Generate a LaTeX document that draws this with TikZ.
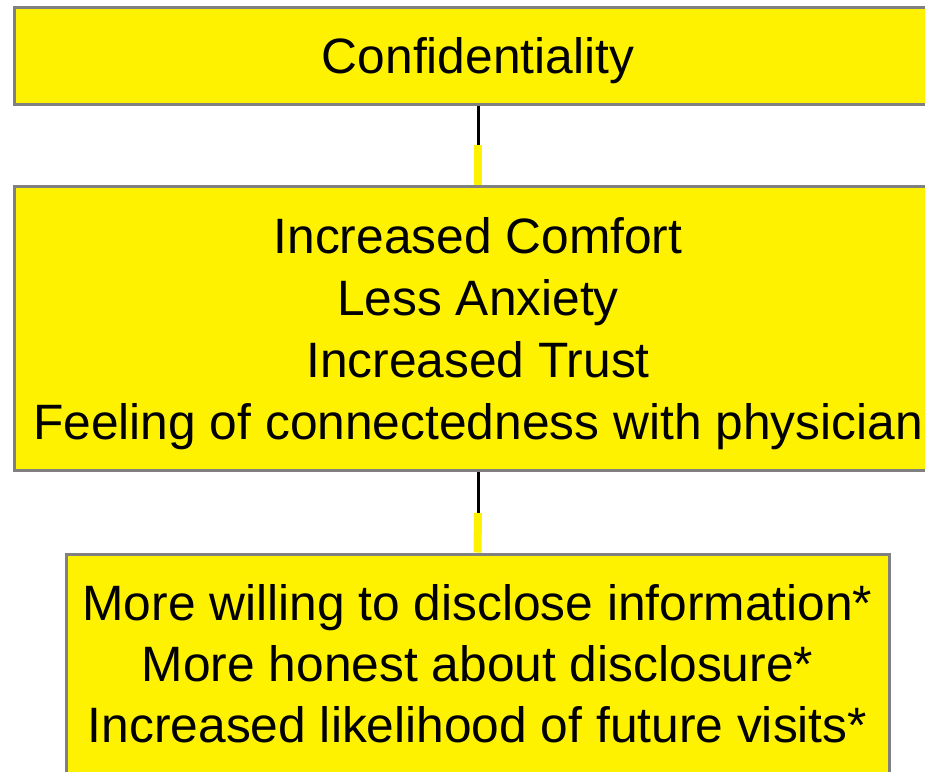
\documentclass[tikz,border=0pt]{standalone}
\usepackage{fontspec}
\setmainfont{Liberation Sans}
\begin{document}
\begin{tikzpicture}[x=1pt, y=-1pt, every node/.style={rectangle, draw=gray, fill=yellow, line width=3pt, inner sep=0pt, align=center, font=\fontsize{49.7}{62}\selectfont}, lowered/.style={text depth=0pt}]

% Fix the page size and cut off what runs over the edge
\useasboundingbox (0,0) rectangle (925,771);
\clip (0,0) rectangle (925,771);

% Define the boxes
\node[lowered, minimum width=928pt, minimum height=97pt] (conf) at (478,55.5) {Confidentiality};
\node[lowered, minimum width=928pt, minimum height=284pt] (feel) at (478,328) {Increased Comfort\\Less Anxiety\\Increased Trust\\Feeling of connectedness with physician};
\node[minimum width=823pt, minimum height=220pt, font=\fontsize{49.7}{61}\selectfont] (act) at (477.5,664) {More willing to disclose information*\\More honest about disclosure*\\Increased likelihood of future visits*};

% Define the points where the links change colour
\coordinate (m1) at (478,145);
\coordinate (m2) at (478,513);

% Draw the links between the boxes
\draw[line width=3pt] (conf.south) -- (m1);
\draw[yellow, line width=8pt] (m1) -- (feel.north);
\draw[line width=3pt] (feel.south) -- (m2);
\draw[yellow, line width=8pt] (m2) -- (act.north);

\end{tikzpicture}
\end{document}
